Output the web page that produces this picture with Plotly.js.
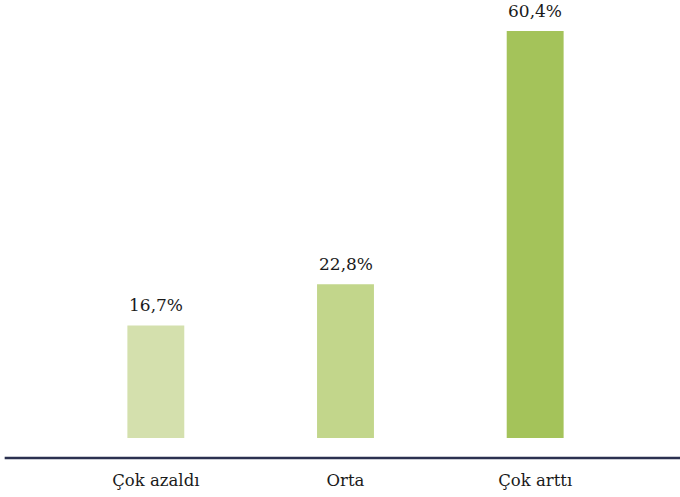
<!DOCTYPE html>
<html>
<head>
<meta charset="utf-8">
<script src="https://cdn.plot.ly/plotly-3.0.1.min.js"></script>
<style>html,body{margin:0;padding:0;background:#fff}</style>
</head>
<body>
<div id="chart" style="width:680px;height:497px"></div>
<script>
var categories = ["Çok azaldı", "Orta", "Çok arttı"];
var values = [16.7, 22.8, 60.4];
var valueLabels = ["16,7%", "22,8%", "60,4%"];
var barColors = ["#d4e0ad", "#c2d68b", "#a4c35a"];

var trace = {
  type: "bar",
  x: categories,
  y: values,
  marker: {color: barColors},
  hoverinfo: "none"
};

var annotations = categories.map(function(c, i) {
  return {
    x: c, y: values[i], xref: "x", yref: "y",
    text: valueLabels[i], showarrow: false,
    yanchor: "bottom", yshift: 8,
    font: {family: "DejaVu Serif, serif", size: 17, color: "#1a1a1a"}
  };
});

var layout = {
  width: 680, height: 497,
  margin: {l: 60.5, r: 49.5, t: 10, b: 59},
  paper_bgcolor: "#fff", plot_bgcolor: "#fff",
  showlegend: false,
  bargap: 0.7,
  xaxis: {
    type: "category", range: [-0.5, 2.5],
    showgrid: false, zeroline: false, showline: false, ticks: "",
    ticklabelstandoff: 30,
    tickfont: {family: "DejaVu Serif, serif", size: 16.5, color: "#1a1a1a"}
  },
  yaxis: {
    range: [0, 63.5], visible: false, showgrid: false, zeroline: false
  },
  annotations: annotations,
  shapes: [{
    type: "line", xref: "paper", yref: "paper",
    x0: -0.099, x1: 1.09, y0: -0.0467, y1: -0.0467,
    line: {color: "#2b3150", width: 2.5}
  }]
};

Plotly.newPlot("chart", [trace], layout, {displayModeBar: false, staticPlot: true});
</script>
</body>
</html>
